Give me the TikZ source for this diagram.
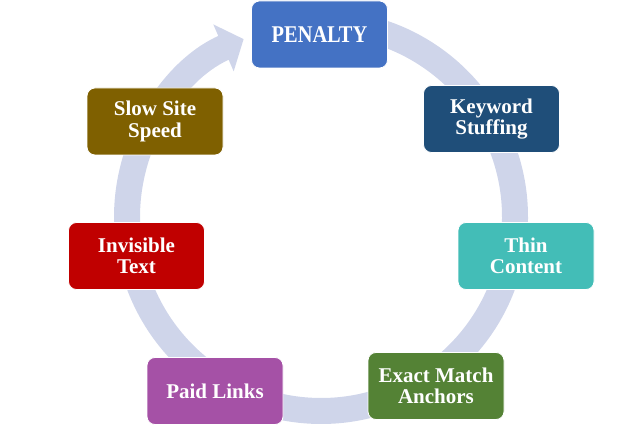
\documentclass[tikz,border=0pt]{standalone}
\usepackage{fontspec}
\setmainfont{Liberation Serif}
\usetikzlibrary{arrows.meta}
\definecolor{ringc}{HTML}{CFD5EA}
\definecolor{cpen}{HTML}{4472C4}
\definecolor{ckey}{HTML}{1F4E79}
\definecolor{cthin}{HTML}{43BDB7}
\definecolor{cexact}{HTML}{548235}
\definecolor{cpaid}{HTML}{A551A6}
\definecolor{cinv}{HTML}{C00000}
\definecolor{cslow}{HTML}{7F6000}
\tikzset{
  box/.style={draw=white, line width=0.8pt, rounded corners=8pt, minimum width=136pt, minimum height=67pt,
    inner sep=0pt, align=center, text=white, font=\fontsize{21}{21.5}\selectfont\bfseries},
}
\begin{document}
\begin{tikzpicture}[x=1pt,y=1pt]
\useasboundingbox (0,0) rectangle (640,427);
\draw[ringc, line width=26pt, -{Triangle[length=22pt,width=50pt]}] ([shift={(85:194)}]321,210) arc[start angle=85, end angle=-246.5, radius=194];
\node[box, fill=cpen] (pen) at (319.5,392.5) {\fontsize{24}{24}\selectfont\scalebox{0.85}[1]{PENALTY}};
\node[box, fill=ckey] (key) at (491.5,308) {Keyword\\Stuffing};
\node[box, fill=cthin] (thin) at (526,171) {Thin\\Content};
\node[box, fill=cexact] (exact) at (436,41) {Exact Match\\Anchors};
\node[box, fill=cpaid] (paid) at (215,36) {Paid Links};
\node[box, fill=cinv] (inv) at (136.5,171) {Invisible\\Text};
\node[box, fill=cslow] (slow) at (155,305.5) {Slow Site\\Speed};
\end{tikzpicture}
\end{document}
